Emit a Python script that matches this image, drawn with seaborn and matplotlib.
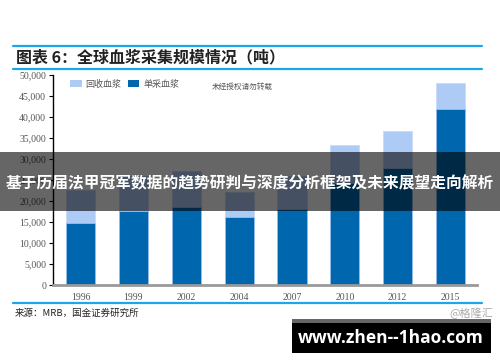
import matplotlib
matplotlib.use("Agg")
import matplotlib.pyplot as plt
from matplotlib.patches import Patch, Rectangle
from matplotlib.lines import Line2D
import seaborn as sns
import pandas as pd

# values (tonnes)
years = ["1996", "1999", "2002", "2004", "2007", "2010", "2012", "2015"]
single = [14800, 17700, 18600, 16300, 18100, 24300, 27800, 41900]     # 单采血浆
recovered = [7800, 8300, 8600, 5900, 7900, 9100, 8900, 6100]          # 回收血浆
yticks = [0, 5000, 10000, 15000, 20000, 25000, 30000, 35000, 40000, 45000, 50000]

light = "#AECBF6"
dark = "#0067AE"
blue_line = "#1AA7EC"

df = pd.DataFrame({"year": years, "single": single, "recovered": recovered})
df["total"] = df["single"] + df["recovered"]

sns.set_theme(style="white")
plt.rcParams["font.family"] = ["Noto Sans CJK SC", "DejaVu Sans"]

fig = plt.figure(figsize=(5, 3.62), dpi=100)
ax = fig.add_axes([0.106, 0.2127, 0.848, 0.580])

# stacked bars: total in light blue, single collection in dark blue on top
sns.barplot(data=df, x="year", y="total", color=light, saturation=1, width=0.55,
            edgecolor="#C8DBF8", linewidth=0.6, ax=ax)
sns.barplot(data=df, x="year", y="single", color=dark, saturation=1, width=0.55,
            edgecolor="#9CC0EE", linewidth=0.6, ax=ax)

ax.set_xlim(-0.52, 7.5)
ax.set_ylim(0, 50000)
ax.set_yticks(yticks)
ax.set_yticklabels([f"{v:,}" for v in yticks], family="Liberation Serif", fontsize=7, color="#555555")
ax.set_xticks(range(len(years)))
ax.set_xticklabels(years, family="Liberation Serif", fontsize=7, color="#555555")
ax.set_xlabel("")
ax.set_ylabel("")
ax.tick_params(axis="y", length=3, width=0.8, color="black", left=True, pad=2)
ax.tick_params(axis="x", length=0, pad=6)
for s in ["top", "right"]:
    ax.spines[s].set_visible(False)
ax.spines["left"].set_color("black")
ax.spines["left"].set_linewidth(1)
ax.spines["bottom"].set_color("#999999")
ax.spines["bottom"].set_linewidth(2)

handles = [Patch(facecolor=light, edgecolor="none", label="回收血浆"),
           Patch(facecolor=dark, edgecolor="none", label="单采血浆")]
leg = ax.legend(handles=handles, loc="center left", bbox_to_anchor=(0.14, 0.768),
                bbox_transform=fig.transFigure, ncol=2, frameon=False, fontsize=6.5,
                handlelength=1.3, handleheight=0.9, handletextpad=0.4,
                columnspacing=0.7, borderaxespad=0, borderpad=0)
for t in leg.get_texts():
    t.set_color("#555555")

fig.text(0.423, 1 - 87 / 362, "未经授权请勿转载", fontsize=5.5, color="#555555", va="center")

# header / footer frame
for yy in [46, 69, 303]:
    fig.add_artist(Line2D([0.026, 0.963], [1 - yy / 362] * 2, color=blue_line, lw=1.6,
                          transform=fig.transFigure))
fig.text(0.032, 1 - 57 / 362, "图表 6：全球血浆采集规模情况（吨）", fontsize=11.5,
         weight="bold", style="italic", color="#222222", va="center")
fig.text(0.03, 1 - 313 / 362, "来源：MRB，国金证券研究所", fontsize=6.8, color="#222222", va="center")
fig.text(0.986, 1 - 313 / 362, "@格隆汇", fontsize=8, color="#AAAAAA", va="center", ha="right")

# overlay banners
fig.add_artist(Rectangle((0, 1 - 211 / 362), 1, (211 - 151.7) / 362, transform=fig.transFigure,
                         facecolor="black", alpha=0.6, edgecolor="none", zorder=10))
fig.text(0.5, 1 - 183 / 362, "基于历届法甲冠军数据的趋势研判与深度分析框架及未来展望走向解析",
         fontsize=11.3, weight="bold", color="white", ha="center", va="center", zorder=11)
fig.add_artist(Rectangle((292 / 500, 1 - 323 / 362), 199 / 500, 4 / 362, transform=fig.transFigure,
                         facecolor="#666666", edgecolor="none", zorder=10))
fig.add_artist(Rectangle((292 / 500, 1 - 353 / 362), 199 / 500, 30 / 362, transform=fig.transFigure,
                         facecolor="black", edgecolor="none", zorder=10))
fig.text(391 / 500, 1 - 338 / 362, "www.zhen--1hao.com", fontsize=12.5, weight="bold",
         color="white", ha="center", va="center", zorder=11, family=["Open Sans", "DejaVu Sans"])

fig.savefig("out.png", dpi=100)
